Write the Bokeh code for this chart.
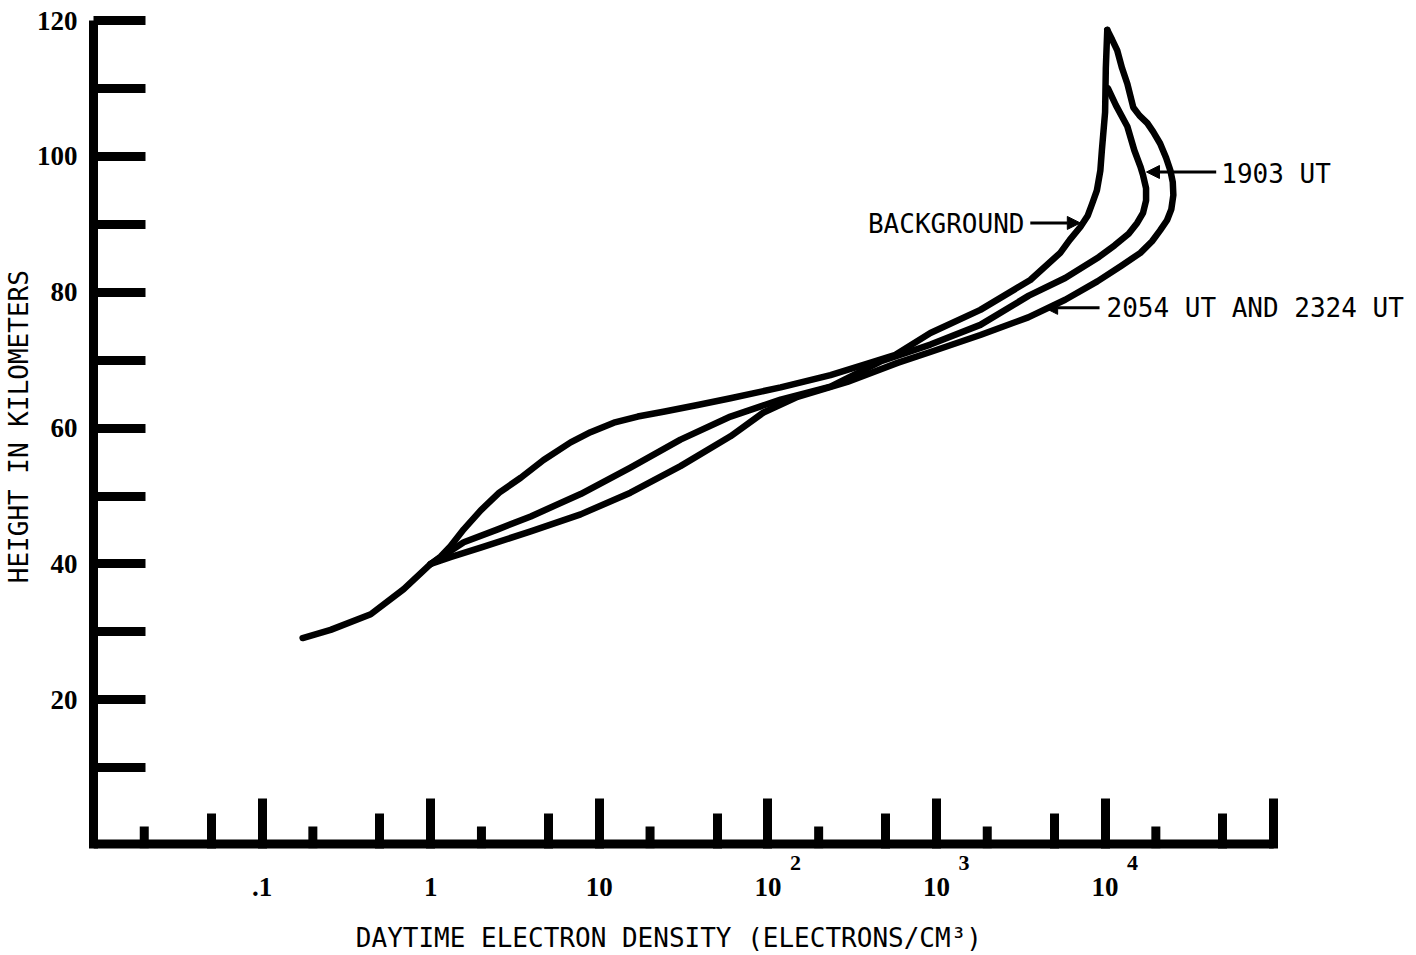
from bokeh.plotting import figure
from bokeh.models import FixedTicker, Range1d, Label, Arrow, NormalHead, LogAxis
from bokeh.embed import file_html
from bokeh.resources import INLINE

# ---- data (density in electrons/cm^3, height in km) ----
low_density = [0.174, 0.255, 0.441, 0.692, 1.0]
low_height = [29.1, 30.3, 32.6, 36.3, 40.0]

bg_density = [1.0, 1.146, 1.31, 1.57, 1.98, 2.55, 3.42, 4.67, 6.76, 8.87, 12.2, 16.9,
              24.0, 38.3, 60.0, 119, 235, 369, 571, 920, 1820, 3600, 5420, 6170,
              7130, 7900, 8400, 8940, 9370, 9570, 10000, 10100, 10300]
bg_height = [40.0, 41.1, 42.6, 45.1, 47.9, 50.5, 52.7, 55.3, 57.9, 59.4, 60.8, 61.7,
             62.4, 63.4, 64.4, 66.0, 67.8, 69.3, 70.8, 74.0, 77.4, 81.8, 85.8, 87.7,
             89.6, 91.3, 93.1, 95.0, 97.9, 100.9, 106.5, 113.0, 118.6]

ut1903_density = [1.0, 1.57, 2.5, 3.92, 7.75, 15.3, 30.3, 60, 119, 235, 465, 920,
                  1820, 3530, 5800, 9200, 11400, 13800, 15500, 16800, 17500, 17500,
                  16800, 16200, 14900, 13550, 11600, 10400]
ut1903_height = [40.0, 43.2, 45.1, 47.0, 50.3, 54.2, 58.3, 61.7, 64.2, 66.1, 69.8, 72.3,
                 75.2, 79.5, 82.1, 85.2, 86.9, 88.6, 90.2, 91.7, 93.5, 95.3,
                 97.2, 98.5, 100.9, 104.4, 107.5, 110.0]

ut2054_density = [1.0, 1.31, 1.98, 3.92, 7.75, 15.3, 30.3, 60, 94.2, 150, 296, 587,
                  920, 1820, 3500, 5800, 9000, 12500, 16200, 19000, 21200, 23300,
                  24700, 25400, 25200, 24400, 23000, 21200, 19300, 17800, 16000,
                  14700, 13550, 12600, 11800, 11000, 10300]
ut2054_height = [40.0, 41.0, 42.4, 44.8, 47.3, 50.5, 54.4, 58.8, 62.3, 64.6, 66.8, 69.6,
                 71.2, 73.7, 76.3, 78.9, 81.6, 83.9, 85.8, 87.5, 89.1, 90.6,
                 92.2, 94.3, 96.2, 97.9, 99.8, 101.9, 103.6, 104.9, 106.0,
                 107.2, 110.7, 113.0, 115.6, 117.2, 118.6]

x_major_ticks = [0.1, 1, 10, 100, 1000, 10000, 100000]
x_major_labels = [".1", "1", "10", "10", "10", "10", ""]
x_exp_labels = ["", "", "", "2", "3", "4", ""]
x_mid_ticks = [0.05, 0.5, 5, 50, 500, 5000, 50000]
x_short_ticks = [0.02, 0.2, 2, 20, 200, 2000, 20000]

y_ticks = [10, 20, 30, 40, 50, 60, 70, 80, 90, 100, 110, 120]
y_labels = ["", "20", "", "40", "", "60", "", "80", "", "100", "", "120"]

X_MIN, X_MAX = 0.01, 10 ** 5.847
X_AXIS_END = 1e5
Y_MIN, Y_MAX = -1.88, 120
SHORT_TICK_TOP = 1.35

MONO = "DejaVu Sans Mono"
NUM = "Liberation Serif"
NB = "\u00a0"

p = figure(width=1416, height=955, x_axis_type="log",
           x_range=Range1d(X_MIN, X_MAX), y_range=Range1d(Y_MIN, Y_MAX),
           output_backend="svg", toolbar_location=None,
           min_border_left=91, min_border_right=0,
           min_border_top=20, min_border_bottom=105)
p.title.visible = False
p.outline_line_color = None
p.xgrid.visible = False
p.ygrid.visible = False
p.background_fill_color = "white"
p.border_fill_color = "white"

# x axis 1: ticks + exponents
ax1 = p.xaxis[0]
ax1.ticker = FixedTicker(ticks=x_major_ticks, minor_ticks=x_mid_ticks)
ax1.major_label_overrides = {t: (NB * 10 + e if e else "") for t, e in zip(x_major_ticks, x_exp_labels)}
ax1.axis_line_color = None
ax1.major_tick_in = 50
ax1.major_tick_out = 0
ax1.major_tick_line_width = 9
ax1.major_tick_line_color = "black"
ax1.minor_tick_in = 35
ax1.minor_tick_out = 0
ax1.minor_tick_line_width = 9
ax1.minor_tick_line_color = "black"
ax1.major_label_text_font = NUM
ax1.major_label_text_font_style = "bold"
ax1.major_label_text_font_size = "22px"
ax1.major_label_text_color = "black"
ax1.major_label_standoff = 1

# x axis 2: decade labels + title
ax2 = LogAxis(ticker=FixedTicker(ticks=x_major_ticks))
ax2.major_label_overrides = dict(zip(x_major_ticks, x_major_labels))
ax2.axis_line_color = None
ax2.major_tick_line_color = None
ax2.minor_tick_line_color = None
ax2.major_tick_in = 0
ax2.major_tick_out = 0
ax2.minor_tick_in = 0
ax2.minor_tick_out = 0
ax2.major_label_text_font = NUM
ax2.major_label_text_font_style = "bold"
ax2.major_label_text_font_size = "27px"
ax2.major_label_text_color = "black"
ax2.major_label_standoff = 0
ax2.axis_label = "DAYTIME ELECTRON DENSITY (ELECTRONS/CM\u00b3)" + NB * 11
ax2.axis_label_text_font = MONO
ax2.axis_label_text_font_style = "normal"
ax2.axis_label_text_font_size = "26px"
ax2.axis_label_text_color = "black"
ax2.axis_label_standoff = 24
p.add_layout(ax2, "below")

# y axis
p.yaxis.ticker = FixedTicker(ticks=y_ticks)
p.yaxis.major_label_overrides = dict(zip(y_ticks, y_labels))
p.yaxis.axis_line_width = 9
p.yaxis.axis_line_color = "black"
p.yaxis.major_tick_in = 52
p.yaxis.major_tick_out = 0
p.yaxis.major_tick_line_width = 9
p.yaxis.minor_tick_line_color = None
p.yaxis.major_label_text_font = NUM
p.yaxis.major_label_text_font_style = "bold"
p.yaxis.major_label_text_font_size = "27px"
p.yaxis.major_label_text_color = "black"
p.yaxis.major_label_standoff = 16
p.yaxis.axis_label = NB + "HEIGHT IN KILOMETERS"
p.yaxis.axis_label_text_font = MONO
p.yaxis.axis_label_text_font_style = "normal"
p.yaxis.axis_label_text_font_size = "26px"
p.yaxis.axis_label_text_color = "black"
p.yaxis.axis_label_standoff = 0

# x axis line (ends at the last decade) and short ticks at 2 x decades
p.segment(x0=[X_MIN], y0=[Y_MIN], x1=[X_AXIS_END], y1=[Y_MIN],
          line_width=18, line_color="black", line_cap="butt")
p.segment(x0=x_short_ticks, y0=[Y_MIN] * len(x_short_ticks),
          x1=x_short_ticks, y1=[SHORT_TICK_TOP] * len(x_short_ticks),
          line_width=9, line_color="black", line_cap="butt")

# profiles
lw = 6.5
for xs, ys in [(low_density, low_height), (bg_density, bg_height),
               (ut1903_density, ut1903_height), (ut2054_density, ut2054_height)]:
    p.line(xs, ys, line_width=lw, line_color="black", line_join="round", line_cap="round")

# annotations
def label(x, y, text):
    p.add_layout(Label(x=x, y=y, text=text, text_font=MONO, text_font_size="26px",
                       text_align="left", text_baseline="middle", text_color="black"))

label(392, 90.0, "BACKGROUND")
label(48900, 97.4, "1903 UT")
label(10190, 77.7, "2054 UT AND 2324 UT")

def arrow(x0, x1, y):
    p.add_layout(Arrow(end=NormalHead(size=13, fill_color="black", line_color="black",
                                      line_width=1),
                       x_start=x0, y_start=y, x_end=x1, y_end=y,
                       line_width=3, line_color="black"))

arrow(3600, 7130, 90.2)
arrow(45600, 17600, 97.7)
arrow(9270, 4380, 77.7)

open("out.html", "w").write(file_html(p, INLINE))
